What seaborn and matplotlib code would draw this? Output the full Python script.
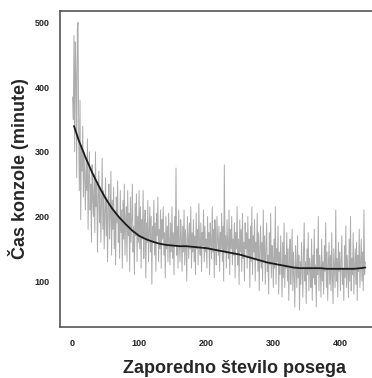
import numpy as np
import pandas as pd
import matplotlib
matplotlib.use("Agg")
import matplotlib.pyplot as plt
import seaborn as sns

# console time per procedure (minutes)
console_time = [
    385, 350, 480, 300, 470, 420, 260, 490, 500, 330, 240, 380, 195, 310, 270, 340, 230, 300, 260, 210,
    290, 240, 320, 180, 260, 300, 210, 250, 160, 280, 230, 200, 265, 175, 300, 215, 250, 145, 230, 270,
    190, 245, 160, 220, 290, 180, 240, 150, 205, 260, 170, 230, 130, 215, 250, 165, 200, 270, 140, 225,
    180, 245, 150, 210, 125, 230, 190, 255, 160, 200, 135, 240, 175, 210, 120, 225, 165, 250, 140, 195,
    215, 130, 240, 170, 205, 115, 230, 160, 195, 250, 145, 185, 110, 220, 170, 235, 130, 200, 160, 240,
    150, 215, 120, 195, 165, 240, 135, 180, 210, 105, 190, 160, 225, 130, 175, 215, 145, 200, 95, 185,
    160, 225, 140, 190, 115, 205, 170, 230, 130, 180, 150, 210, 120, 195, 165, 215, 140, 175, 105, 200,
    150, 185, 130, 205, 160, 125, 190, 145, 215, 135, 175, 110, 200, 155, 275, 140, 185, 120, 210, 160,
    130, 195, 170, 115, 185, 145, 210, 125, 180, 155, 100, 200, 165, 135, 190, 150, 215, 120, 175, 145,
    195, 130, 170, 110, 205, 150, 180, 125, 220, 160, 140, 190, 115, 175, 155, 210, 130, 185, 145, 165,
    120, 200, 150, 175, 110, 190, 160, 135, 215, 145, 180, 105, 195, 155, 125, 200, 165, 140, 185, 115,
    175, 150, 205, 130, 185, 100, 280, 145, 170, 120, 195, 155, 135, 210, 110, 180, 150, 200, 125, 165,
    140, 190, 105, 175, 150, 215, 125, 165, 95, 195, 145, 180, 115, 205, 135, 160, 100, 190, 150, 175,
    120, 200, 140, 165, 90, 185, 130, 215, 110, 170, 145, 195, 100, 160, 135, 205, 115, 175, 85, 150,
    185, 120, 160, 100, 210, 130, 170, 95, 150, 190, 115, 140, 80, 175, 125, 205, 105, 155, 135, 90,
    165, 120, 215, 95, 150, 130, 185, 80, 145, 110, 170, 125, 75, 160, 105, 190, 90, 140, 120, 175,
    100, 150, 70, 135, 165, 95, 125, 180, 85, 145, 110, 60, 155, 120, 90, 170, 105, 140, 55, 130,
    95, 160, 115, 75, 145, 190, 100, 130, 65, 150, 110, 175, 85, 135, 120, 90, 165, 70, 140, 105,
    180, 95, 125, 60, 150, 110, 200, 85, 140, 120, 75, 165, 100, 130, 80, 155, 115, 190, 90, 145,
    70, 125, 160, 95, 140, 85, 175, 110, 65, 150, 120, 90, 210, 100, 135, 75, 160, 115, 145, 85,
    130, 170, 95, 120, 70, 155, 105, 185, 90, 140, 115, 75, 165, 100, 200, 85, 135, 110, 175, 80,
    125, 150, 95, 160, 70, 140, 115, 180, 90, 130, 165, 100, 145, 85, 210, 110, 130,
]
procedure = list(range(1, len(console_time) + 1))

# smoothed trend (black curve)
trend_x = [3, 10, 20, 30, 40, 50, 60, 70, 80, 90, 100, 110, 120, 130, 140, 150, 160, 170,
           180, 190, 200, 210, 220, 230, 240, 250, 260, 270, 280, 290, 300, 310, 320, 330,
           340, 350, 360, 370, 380, 390, 400, 410, 420, 430, 437]
trend_y = [340, 318, 292, 268, 247, 228, 212, 199, 188, 178, 170, 165, 161, 158, 156, 155,
           154, 154, 153, 152, 151, 149, 147, 145, 143, 141, 138, 135, 132, 129, 127, 125,
           123, 121, 120, 120, 120, 120, 119, 119, 119, 119, 119, 120, 121]

sns.set_style("white")
plt.rcParams["font.family"] = ["Liberation Sans", "DejaVu Sans"]

fig = plt.figure(figsize=(3.72, 3.78), dpi=100)
ax = fig.add_axes([0.161, 0.135, 0.839, 0.836])

sns.lineplot(x=procedure, y=console_time, ax=ax, color="#acacac", linewidth=0.7,
             estimator=None, sort=False)
sns.lineplot(x=trend_x, y=trend_y, ax=ax, color="#1a1a1a", linewidth=1.3,
             estimator=None, sort=False)

ax.set_xlim(-18, 447)
ax.set_ylim(29, 518)
ax.set_xticks([0, 100, 200, 300, 400])
ax.set_yticks([100, 200, 300, 400, 500])
ax.tick_params(axis="both", direction="out", length=4, width=1.4, colors="#222222",
               labelsize=6.5, labelcolor="#222222")
for lbl in ax.get_xticklabels() + ax.get_yticklabels():
    lbl.set_fontweight("bold")
ax.tick_params(axis="x", pad=5)

for side in ["left", "bottom", "top"]:
    ax.spines[side].set_color("#555555")
    ax.spines[side].set_linewidth(1.2)
ax.spines["right"].set_visible(False)

ax.set_xlabel("Zaporedno število posega", fontsize=13, fontweight="bold")
ax.set_ylabel("Čas konzole (minute)", fontsize=13, fontweight="bold")
ax.xaxis.set_label_coords(0.56, -0.103)
ax.yaxis.set_label_coords(-0.1, 0.5)

fig.savefig("out.png", dpi=100)
